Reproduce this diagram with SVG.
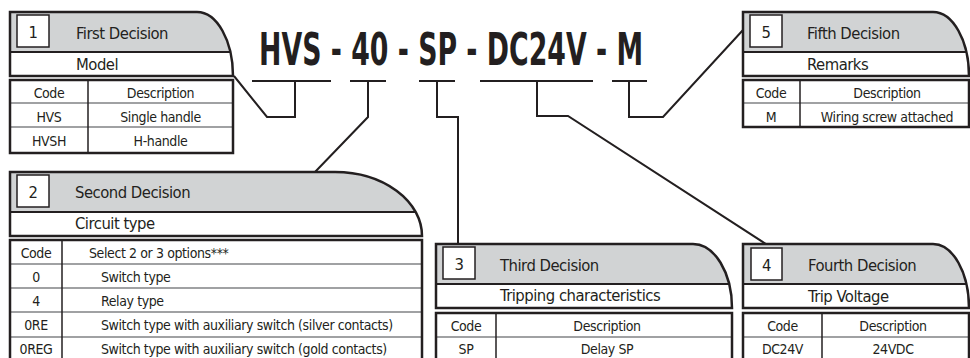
<svg xmlns="http://www.w3.org/2000/svg" width="970" height="358" viewBox="0 0 970 358">
<style>
.bg{fill:#ffffff}
.hd{fill:#d1d3d4}
.wr{fill:#ffffff}
.fr{fill:none;stroke:#231f20;stroke-width:2.5}
.dv{stroke:#231f20;stroke-width:2.2}
.nb{fill:#ffffff;stroke:#231f20;stroke-width:1.5}
.t{font-family:"DejaVu Sans Condensed","Liberation Sans",sans-serif;fill:#231f20}
.h{font-size:16.5px;letter-spacing:-0.5px}
.c{font-size:14px;letter-spacing:-0.4px}
.m{text-anchor:middle}
.rl{stroke:#808285;stroke-width:1.5}
.cl{stroke:#231f20;stroke-width:1.5}
.conn{fill:none;stroke:#231f20;stroke-width:2}
.title{font-family:"DejaVu Sans Condensed","Liberation Sans",sans-serif;font-weight:bold;font-size:45px;fill:#231f20}
</style>
<defs>
<clipPath id="k1"><path d="M10,12 H197 A36,64 0 0 1 233,76 H10 Z"/></clipPath>
<clipPath id="k2"><path d="M10,172 H335 A87,64 0 0 1 422,236 H10 Z"/></clipPath>
<clipPath id="k3"><path d="M436,244 H693 A39,64 0 0 1 732,308 H436 Z"/></clipPath>
<clipPath id="k4"><path d="M743,244 H933 A36,64 0 0 1 969,308 H743 Z"/></clipPath>
<clipPath id="k5"><path d="M743,12 H933 A36,64 0 0 1 969,76 H743 Z"/></clipPath>
</defs>
<rect class="bg" x="0" y="0" width="970" height="358"/>

<g id="connectors">
<line class="conn" x1="252" y1="81" x2="331" y2="81"/>
<line class="conn" x1="350" y1="81" x2="386" y2="81"/>
<line class="conn" x1="419" y1="81" x2="455" y2="81"/>
<line class="conn" x1="480" y1="81" x2="593" y2="81"/>
<line class="conn" x1="612" y1="81" x2="647" y2="81"/>
<path class="conn" d="M295,81 V117 H267 L234,76"/>
<path class="conn" d="M368,81 V117 L315,172"/>
<path class="conn" d="M437,81 V117 H458 V244"/>
<path class="conn" d="M537,81 V116 H568 L766,244"/>
<path class="conn" d="M629,81 V117 H663 L743,30"/>
</g>

<g id="title">
<text class="title" transform="translate(259,65) scale(0.661,1)" x="0" y="0" textLength="581" lengthAdjust="spacingAndGlyphs">HVS - 40 - SP - DC24V - M</text>
</g>

<g id="box1">
<path class="hd" d="M10,12 H197 A36,64 0 0 1 233,76 H10 Z"/>
<rect class="wr" x="10" y="52" width="230" height="26" clip-path="url(#k1)"/>
<line class="dv" x1="10" y1="52" x2="240" y2="52" clip-path="url(#k1)"/>
<path class="fr" d="M10,12 H197 A36,64 0 0 1 233,76 H10 Z"/>
<rect class="nb" x="17" y="15" width="32" height="32"/>
<text class="t h m" x="33" y="38">1</text>
<text class="t h" x="76" y="39">First Decision</text>
<text class="t h" x="76" y="70">Model</text>
<line class="rl" x1="10" y1="103" x2="233" y2="103"/>
<line class="rl" x1="10" y1="127" x2="233" y2="127"/>
<line class="cl" x1="88" y1="80" x2="88" y2="153"/>
<rect class="fr" x="10" y="80" width="223" height="73"/>
<text class="t c m" x="49" y="97.5">Code</text>
<text class="t c m" x="160.5" y="97.5">Description</text>
<text class="t c m" x="49" y="121.5">HVS</text>
<text class="t c m" x="160.5" y="121.5">Single handle</text>
<text class="t c m" x="49" y="146">HVSH</text>
<text class="t c m" x="160.5" y="146">H-handle</text>
</g>

<g id="box2">
<path class="hd" d="M10,172 H335 A87,64 0 0 1 422,236 H10 Z"/>
<rect class="wr" x="10" y="212" width="420" height="26" clip-path="url(#k2)"/>
<line class="dv" x1="10" y1="212" x2="430" y2="212" clip-path="url(#k2)"/>
<path class="fr" d="M10,172 H335 A87,64 0 0 1 422,236 H10 Z"/>
<rect class="nb" x="17" y="175" width="32" height="32"/>
<text class="t h m" x="33" y="198">2</text>
<text class="t h" x="75" y="198">Second Decision</text>
<text class="t h" x="75" y="229">Circuit type</text>
<line class="rl" x1="10" y1="264" x2="422" y2="264"/>
<line class="rl" x1="10" y1="288" x2="422" y2="288"/>
<line class="rl" x1="10" y1="312" x2="422" y2="312"/>
<line class="rl" x1="10" y1="337" x2="422" y2="337"/>
<line class="cl" x1="62" y1="240" x2="62" y2="362"/>
<rect class="fr" x="10" y="240" width="412" height="125"/>
<text class="t c m" x="36" y="257.5">Code</text>
<text class="t c" x="89" y="257.5">Select 2 or 3 options***</text>
<text class="t c m" x="36" y="281.5">0</text>
<text class="t c" x="101" y="281.5">Switch type</text>
<text class="t c m" x="36" y="305.5">4</text>
<text class="t c" x="101" y="305.5">Relay type</text>
<text class="t c m" x="36" y="330">0RE</text>
<text class="t c" x="101" y="330">Switch type with auxiliary switch (silver contacts)</text>
<text class="t c m" x="36" y="354">0REG</text>
<text class="t c" x="101" y="354">Switch type with auxiliary switch (gold contacts)</text>
</g>

<g id="box3">
<path class="hd" d="M436,244 H693 A39,64 0 0 1 732,308 H436 Z"/>
<rect class="wr" x="436" y="284" width="300" height="26" clip-path="url(#k3)"/>
<line class="dv" x1="436" y1="284" x2="740" y2="284" clip-path="url(#k3)"/>
<path class="fr" d="M436,244 H693 A39,64 0 0 1 732,308 H436 Z"/>
<rect class="nb" x="443" y="247" width="32" height="32"/>
<text class="t h m" x="459" y="270">3</text>
<text class="t h" x="500" y="270.5">Third Decision</text>
<text class="t h" x="500" y="301">Tripping characteristics</text>
<line class="rl" x1="436" y1="337" x2="732" y2="337"/>
<line class="cl" x1="496" y1="313" x2="496" y2="362"/>
<rect class="fr" x="436" y="313" width="296" height="52"/>
<text class="t c m" x="466" y="330.5">Code</text>
<text class="t c m" x="607" y="330.5">Description</text>
<text class="t c m" x="466" y="354">SP</text>
<text class="t c m" x="607" y="354">Delay SP</text>
</g>

<g id="box4">
<path class="hd" d="M743,244 H933 A36,64 0 0 1 969,308 H743 Z"/>
<rect class="wr" x="743" y="284" width="230" height="26" clip-path="url(#k4)"/>
<line class="dv" x1="743" y1="284" x2="975" y2="284" clip-path="url(#k4)"/>
<path class="fr" d="M743,244 H933 A36,64 0 0 1 969,308 H743 Z"/>
<rect class="nb" x="751" y="248" width="31" height="32"/>
<text class="t h m" x="766.5" y="271">4</text>
<text class="t h" x="808" y="271">Fourth Decision</text>
<text class="t h" x="808" y="301.5">Trip Voltage</text>
<line class="rl" x1="743" y1="337" x2="969" y2="337"/>
<line class="cl" x1="822" y1="313" x2="822" y2="362"/>
<rect class="fr" x="743" y="313" width="226" height="52"/>
<text class="t c m" x="782.5" y="330.5">Code</text>
<text class="t c m" x="893" y="330.5">Description</text>
<text class="t c m" x="782.5" y="354">DC24V</text>
<text class="t c m" x="893" y="354">24VDC</text>
</g>

<g id="box5">
<path class="hd" d="M743,12 H933 A36,64 0 0 1 969,76 H743 Z"/>
<rect class="wr" x="743" y="52" width="230" height="26" clip-path="url(#k5)"/>
<line class="dv" x1="743" y1="52" x2="975" y2="52" clip-path="url(#k5)"/>
<path class="fr" d="M743,12 H933 A36,64 0 0 1 969,76 H743 Z"/>
<rect class="nb" x="750" y="15" width="32" height="32"/>
<text class="t h m" x="766" y="38">5</text>
<text class="t h" x="807" y="39">Fifth Decision</text>
<text class="t h" x="807" y="70">Remarks</text>
<line class="rl" x1="743" y1="103" x2="969" y2="103"/>
<line class="cl" x1="800" y1="80" x2="800" y2="127"/>
<rect class="fr" x="743" y="80" width="226" height="47"/>
<text class="t c m" x="771" y="97.5">Code</text>
<text class="t c m" x="887" y="97.5">Description</text>
<text class="t c m" x="771" y="121.5">M</text>
<text class="t c m" x="887" y="121.5">Wiring screw attached</text>
</g>
</svg>
